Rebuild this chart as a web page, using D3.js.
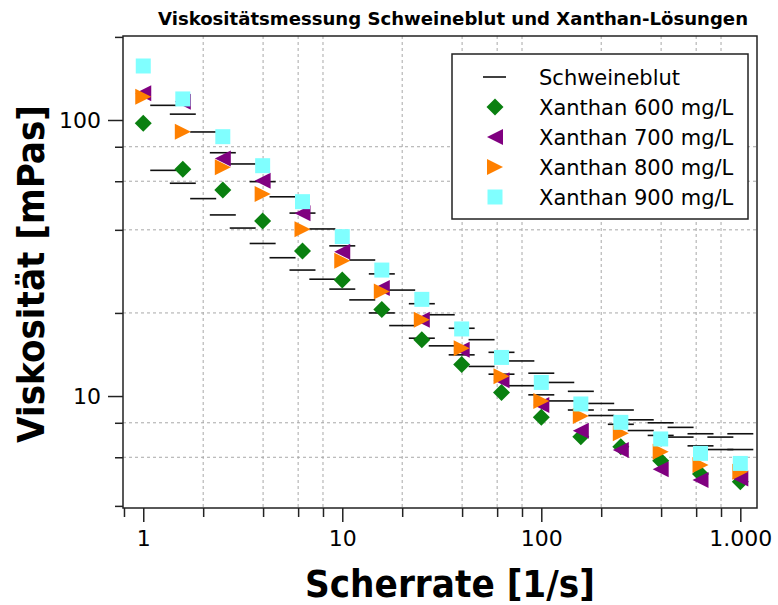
<!DOCTYPE html>
<html>
<head>
<meta charset="utf-8">
<script src="https://cdn.jsdelivr.net/npm/d3@7"></script>
<style>
  body { margin: 0; background: #fff; }
  text { font-family: 'DejaVu Sans', Verdana, sans-serif; fill: #000; }
</style>
</head>
<body>
<div class="chart"></div>
<script>
// shear rates [1/s]
const rateXanthan = [1, 1.58, 2.51, 3.98, 6.31, 10, 15.8, 25.1, 39.8, 63.1, 100, 158, 251, 398, 631, 1000]
const rateBlood = [1.26, 1.58, 2.0, 2.51, 3.16, 3.98, 5.01, 6.31, 7.94, 10, 12.6, 15.8, 20.0, 25.1, 31.6,
  39.8, 50.1, 63.1, 79.4, 100, 126, 158, 200, 251, 316, 398, 501, 631, 794, 1000]

// viscosity [mPas]
const bloodRun1 = [113, 105, 90.5, 76.1, 69.3, 59.8, 52.7, 46.0, 40.3, 35.0, 31.1, 27.7, 24.2, 21.6, 19.7,
  17.6, 16.0, 14.4, 13.4, 12.1, 11.2, 10.4, 9.4, 8.9, 8.2, 8.0, 7.7, 7.3, 7.1, 7.3]
const bloodRun2 = [65.7, 59.0, 51.9, 45.3, 40.6, 35.7, 31.7, 28.6, 26.5, 24.4, 22.3, 20.0, 18.0, 16.2, 15.2,
  14.1, 12.8, 12.0, 10.9, 10.1, 9.6, 8.9, 8.5, 7.9, 7.5, 7.2, 7.1, 6.6, 6.4, 6.4]
const xanthan600 = [97.3, 66.3, 55.8, 43.1, 33.5, 26.3, 20.6, 16.0, 13.0, 10.3, 8.37, 7.12, 6.55, 5.83, 5.22, 4.89]
const xanthan700 = [124.9, 116.5, 72.6, 60.3, 45.9, 33.3, 24.6, 18.9, 14.7, 11.4, 9.28, 7.49, 6.37, 5.43, 4.96, 5.03]
const xanthan800 = [121.5, 90.7, 67.4, 53.9, 40.2, 30.9, 23.9, 18.9, 14.9, 11.8, 9.6, 8.46, 7.33, 6.28, 5.62, 5.32]
const xanthan900 = [156.9, 119.2, 87.0, 68.3, 50.6, 37.8, 28.6, 22.4, 17.5, 13.8, 11.2, 9.36, 8.03, 6.99, 6.20, 5.70]

const xTickLabels = ['1', '10', '100', '1.000']
const yTickLabels = ['10', '100']
const legendNames = ['Schweineblut', 'Xanthan 600 mg/L', 'Xanthan 700 mg/L', 'Xanthan 800 mg/L', 'Xanthan 900 mg/L']

const margin = { top: 36, right: 21, bottom: 97, left: 123 }
const width = 778 - margin.left - margin.right
const height = 605 - margin.top - margin.bottom

const svg = d3
  .select('.chart')
  .append('svg')
  .attr('width', width + margin.left + margin.right)
  .attr('height', height + margin.top + margin.bottom)

const g = svg.append('g').attr('transform', `translate(${margin.left}, ${margin.top})`)

const xScale = d3.scaleLog().domain([0.791, 1213]).range([0, width])
const yScale = d3.scaleLog().domain([3.93, 201.5]).range([height, 0])

// minor values: 2,4,6,8 of each decade
const minorX = xScale.ticks(30).filter(d => [2, 4, 6, 8].includes(Math.round(d / Math.pow(10, Math.floor(Math.log10(d) + 1e-9)))))
const minorY = yScale.ticks(30).filter(d => [2, 4, 6, 8].includes(Math.round(d / Math.pow(10, Math.floor(Math.log10(d) + 1e-9)))))
const majorX = [1, 10, 100, 1000]
const majorY = [10, 100]

// grid, only on minor values
const grid = g.append('g').attr('stroke', '#a8a8a8').attr('stroke-dasharray', '3,3').attr('stroke-width', 1)
grid.selectAll('.gx').data(minorX.filter(d => xScale(d) > 3 && xScale(d) < width - 3)).join('line')
  .attr('x1', d => xScale(d)).attr('x2', d => xScale(d)).attr('y1', 0).attr('y2', height)
grid.selectAll('.gy').data(minorY.filter(d => yScale(d) > 3 && yScale(d) < height - 3)).join('line')
  .attr('y1', d => yScale(d)).attr('y2', d => yScale(d)).attr('x1', 0).attr('x2', width)

// axes
const xAxisMajor = d3.axisBottom(xScale).tickValues(majorX).tickSize(14).tickPadding(8)
  .tickFormat((d, i) => xTickLabels[i])
const xAxisMinor = d3.axisBottom(xScale).tickValues(minorX).tickSize(9).tickFormat('')
const yAxisMajor = d3.axisLeft(yScale).tickValues(majorY).tickSize(15).tickPadding(7)
  .tickFormat((d, i) => yTickLabels[i])
const yAxisMinor = d3.axisLeft(yScale).tickValues(minorY).tickSize(8).tickFormat('')

g.append('g').attr('transform', `translate(0, ${height})`).call(xAxisMinor)
g.append('g').attr('transform', `translate(0, ${height})`).call(xAxisMajor)
g.append('g').call(yAxisMinor)
g.append('g').call(yAxisMajor)
g.selectAll('.domain').remove()
g.selectAll('.tick line').attr('stroke', '#222').attr('stroke-width', 1.5)
g.selectAll('.tick text').style('font-size', '22px').attr('fill', '#000')

// frame
g.append('rect').attr('width', width).attr('height', height)
  .attr('fill', 'none').attr('stroke', '#222').attr('stroke-width', 1.5)

// Schweineblut as short dashes
const dash = 13
;[bloodRun1, bloodRun2].forEach(run => {
  g.append('g').selectAll('line').data(run).join('line')
    .attr('x1', (d, i) => xScale(rateBlood[i]) - dash)
    .attr('x2', (d, i) => xScale(rateBlood[i]) + dash)
    .attr('y1', d => yScale(d)).attr('y2', d => yScale(d))
    .attr('stroke', '#111').attr('stroke-width', 1.6)
})

const symbols = [
  { data: xanthan600, color: '#0a8010', path: 'M0,-8.5L8.5,0L0,8.5L-8.5,0Z' },
  { data: xanthan700, color: '#800080', path: 'M-8,0L8,-8L8,8Z' },
  { data: xanthan800, color: '#ff8000', path: 'M8,0L-8,-8L-8,8Z' },
  { data: xanthan900, color: '#80ffff', path: 'M-7.5,-7.5H7.5V7.5H-7.5Z' }
]

symbols.forEach(s => {
  g.append('g').selectAll('path').data(s.data).join('path')
    .attr('transform', (d, i) => `translate(${xScale(rateXanthan[i])}, ${yScale(d)})`)
    .attr('d', s.path)
    .attr('fill', s.color)
})

// legend
const legend = svg.append('g').attr('transform', 'translate(452, 54)')
legend.append('rect').attr('width', 296).attr('height', 165)
  .attr('fill', '#fff').attr('stroke', '#222').attr('stroke-width', 1.5)
const rowY = i => 23 + i * 30
legend.append('line').attr('x1', 31).attr('x2', 54).attr('y1', rowY(0)).attr('y2', rowY(0))
  .attr('stroke', '#111').attr('stroke-width', 1.6)
symbols.forEach((s, i) => {
  legend.append('path').attr('d', s.path).attr('fill', s.color)
    .attr('transform', `translate(43, ${rowY(i + 1)})`)
})
legend.selectAll('text').data(legendNames).join('text')
  .attr('x', 87).attr('y', (d, i) => rowY(i)).attr('dy', '0.36em')
  .style('font-size', '21px').text(d => d)

// titles
svg.append('text').attr('x', 158).attr('y', 25)
  .attr('textLength', 590).attr('lengthAdjust', 'spacingAndGlyphs')
  .style('font-size', '17px').style('font-weight', 'bold')
  .text('Viskositätsmessung Schweineblut und Xanthan-Lösungen')

svg.append('text').attr('x', 305).attr('y', 597)
  .attr('textLength', 290).attr('lengthAdjust', 'spacingAndGlyphs')
  .style('font-size', '37px').style('font-weight', 'bold')
  .text('Scherrate [1/s]')

svg.append('text').attr('transform', 'translate(44, 443) rotate(-90)')
  .attr('textLength', 338).attr('lengthAdjust', 'spacingAndGlyphs')
  .style('font-size', '38px').style('font-weight', 'bold')
  .text('Viskosität [mPas]')
</script>
</body>
</html>
